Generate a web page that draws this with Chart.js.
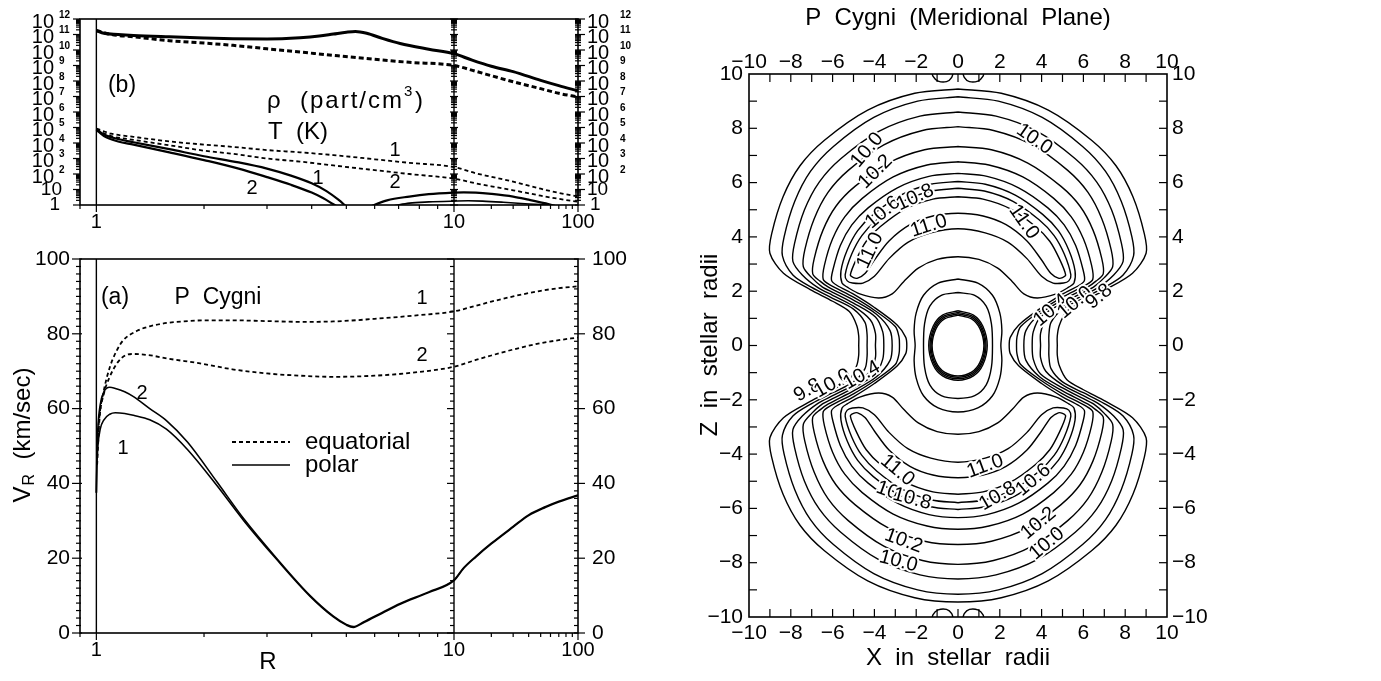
<!DOCTYPE html>
<html>
<head>
<meta charset="utf-8">
<title>P Cygni wind model</title>
<script src="https://cdn.jsdelivr.net/npm/chart.js@4.4.1/dist/chart.umd.min.js"></script>
<style>
  html, body { margin: 0; padding: 0; background: #fff; }
  body { position: relative; width: 1381px; height: 681px; overflow: hidden; }
  canvas { position: absolute; }
  #rhoChart { left: 0; top: 0; }
  #velChart { left: 0; top: 240px; }
  #mapChart { left: 690px; top: 0; }
</style>
</head>
<body>
<canvas id="rhoChart" width="690" height="240"></canvas>
<canvas id="velChart" width="690" height="441"></canvas>
<canvas id="mapChart" width="691" height="681"></canvas>
<script>
const FONT = '"Liberation Sans", Arial, Helvetica, sans-serif'

// shared R axis of (a) and (b)
const rTicks = [1, 10, 100]
const rMinorTicks = [2, 3, 4, 5, 6, 7, 8, 9, 20, 30, 40, 50, 60, 70, 80, 90]

// (b) density, part/cm^3  (polar = solid, equatorial = dotted)
const rRhoPolar = [1, 1.05, 1.15, 1.27, 1.6, 2, 2.41, 3, 3.71, 4.2, 4.6, 5, 5.3, 5.7, 6.3, 7.07, 8.5, 10, 14, 20, 30, 50, 70, 100]
const rhoPolar = [1.8e11, 1.2e11, 1.0e11, 8.7e10, 7.1e10, 6.0e10, 5.4e10, 5.2e10, 6.2e10, 7.9e10, 1.07e11, 1.41e11, 1.58e11, 1.2e11, 5.6e10, 2.6e10, 1.12e10, 5.8e9, 2.2e9, 8.9e8, 4.0e8, 1.1e8, 5.0e7, 2.3e7]
const rRhoEq = [1, 1.1, 1.27, 1.6, 2, 2.41, 3, 3.71, 4.6, 6, 7.5, 10, 15, 20, 30, 50, 70, 100]
const rhoEq = [1.8e11, 1.0e11, 7.1e10, 4.0e10, 2.8e10, 2.0e10, 1.2e10, 7.4e9, 4.5e9, 2.5e9, 1.6e9, 1.0e9, 4.2e8, 2.2e8, 8.9e7, 3.2e7, 1.6e7, 9.3e6]

// (b) temperature, K
const rTempEq = [1, 1.1, 1.27, 1.6, 2, 2.41, 3, 3.71, 4.6, 6, 7.5, 10, 15, 20, 30, 50, 70, 100]
const tempEq1 = [8.5e4, 4.0e4, 2.5e4, 1.26e4, 7.9e3, 5.6e3, 3.5e3, 2.5e3, 1.66e3, 890, 525, 280, 112, 66, 32, 11.2, 6.0, 3.5]
const tempEq2 = [7.1e4, 2.8e4, 1.6e4, 7.1e3, 3.2e3, 2.0e3, 1.0e3, 630, 355, 178, 100, 50, 25, 16, 8.9, 4.0, 2.5, 1.6]
const rTempPol1 = [1, 1.05, 1.15, 1.27, 1.6, 2, 2.5, 3, 3.5, 4, 4.4, 4.75, 5]
const tempPol1 = [7.9e4, 3.5e4, 1.8e4, 1.12e4, 4.0e3, 1.4e3, 560, 224, 79, 25, 7.9, 2.2, 0.79]
const rTempPol2 = [1, 1.05, 1.15, 1.27, 1.6, 2, 2.5, 3, 3.5, 4, 4.3, 4.6, 4.8]
const tempPol2 = [7.1e4, 2.8e4, 1.26e4, 7.9e3, 2.5e3, 790, 224, 63, 20, 6.3, 2.8, 1.12, 0.63]
const rTempPol1Out = [5.9, 6.5, 7.5, 8.5, 10, 12, 15, 20, 30, 40, 55, 65]
const tempPol1Out = [0.89, 2.0, 3.5, 5.0, 6.3, 6.6, 6.3, 5.2, 3.5, 2.2, 1.26, 0.89]
const rTempPol2Out = [6.8, 7.5, 8.5, 10, 13, 17, 25, 35, 50, 65]
const tempPol2Out = [0.89, 1.32, 1.58, 1.78, 1.86, 1.78, 1.51, 1.26, 1.05, 0.89]

const logTicks = [1, 1e1, 1e2, 1e3, 1e4, 1e5, 1e6, 1e7, 1e8, 1e9, 1e10, 1e11, 1e12]

// (a) radial velocity, km/sec
const rVelEq1 = [1.005, 1.02, 1.05, 1.09, 1.14, 1.19, 1.3, 1.41, 1.6, 1.75, 2, 2.41, 3, 3.71, 4.6, 6, 8, 10, 15, 20, 30, 50, 70, 100]
const velEq1 = [50, 58, 65, 71, 75.5, 78.3, 80.8, 82, 83, 83.3, 83.6, 83.6, 83.4, 83.2, 83.3, 84, 85, 86, 87.5, 88.6, 90, 91.5, 92.2, 92.7]
const rVelEq2 = [1.005, 1.02, 1.05, 1.09, 1.15, 1.21, 1.27, 1.4, 1.6, 1.95, 2.4, 3, 3.71, 4.6, 6, 8, 10, 15, 20, 30, 50, 70, 100]
const velEq2 = [45, 57, 64, 68.5, 72.5, 74.3, 74.6, 74.3, 73.3, 72.1, 70.5, 69.4, 68.8, 68.5, 68.8, 69.8, 71.2, 73, 74.2, 75.8, 77.5, 78.3, 79]
const rVelPol = [1, 1.003, 1.01, 1.025, 1.05, 1.09, 1.13, 1.2, 1.27, 1.41, 1.57, 1.8, 2.17, 2.6, 3.19, 3.96, 4.6, 5, 5.23, 5.6, 6.3, 7.07, 8.5, 10, 12, 15, 20, 30, 40, 55, 70, 100]
const velPol1 = [37.5, 44, 50, 54.5, 57, 58.5, 58.9, 58.7, 58.2, 57, 54.5, 49, 39.5, 29.7, 19.7, 9.8, 4.3, 2.1, 1.5, 2.8, 5.3, 7.7, 10.8, 14.0, 17.3, 20.3, 23.8, 28.3, 31.4, 33.6, 35.0, 36.7]
const velPol2 = [37.5, 47, 55, 61, 64.5, 65.7, 65.4, 64.5, 63.2, 60, 56.8, 51, 40.5, 30.2, 20, 10, 4.5, 2.3, 1.7, 3.0, 5.5, 7.9, 11, 14.2, 17.5, 20.5, 24, 28.5, 31.6, 33.8, 35.2, 36.9]
const vTicks = [0, 20, 40, 60, 80, 100]

// (c) log density contours, x and z in stellar radii, drawn in the upper right quadrant
// closed contours around both lobes: pole -> equator
const lobeContours = [
  [[0, 9.45], [2.07, 9.29], [4.32, 8.67], [6.39, 7.56], [7.56, 6.62], [8.37, 5.48], [8.91, 4.13], [9.0, 3.4], [8.35, 2.66], [7.07, 2.06], [6.0, 1.63], [5.2, 1.25], [4.85, 0.75], [4.75, 0.35], [4.75, 0]],
  [[0, 9.16], [1.93, 9.0], [4.03, 8.4], [5.96, 7.33], [7.06, 6.41], [7.81, 5.31], [8.32, 4.0], [8.4, 3.3], [7.9, 2.6], [7.0, 2.14], [6.0, 1.74], [5.0, 1.34], [4.45, 0.85], [4.35, 0.4], [4.35, 0]],
  [[0, 8.6], [1.82, 8.45], [3.79, 7.89], [5.61, 6.88], [6.64, 6.02], [7.35, 4.99], [7.82, 3.76], [7.9, 3.1], [7.45, 2.6], [6.7, 2.13], [6.0, 1.85], [5.0, 1.45], [4.2, 0.95], [3.95, 0.45], [3.95, 0]],
  [[0, 8.06], [1.7, 7.92], [3.55, 7.39], [5.25, 6.45], [6.22, 5.64], [6.88, 4.67], [7.33, 3.52], [7.4, 2.9], [7.0, 2.5], [6.5, 2.16], [6.0, 1.96], [5.0, 1.56], [3.95, 1.05], [3.6, 0.5], [3.55, 0]],
  [[0, 7.33], [1.6, 7.21], [3.34, 6.72], [4.93, 5.86], [5.84, 5.13], [6.46, 4.25], [6.88, 3.2], [6.95, 2.64], [6.6, 2.37], [6.2, 2.15], [5.0, 1.67], [3.9, 1.15], [3.25, 0.55], [3.15, 0]],
  [[0, 6.77], [1.48, 6.65], [3.1, 6.21], [4.58, 5.42], [5.42, 4.74], [6.0, 3.93], [6.39, 2.96], [6.45, 2.44], [6.15, 2.24], [5.0, 1.78], [4.0, 1.3], [3.0, 0.7], [2.82, 0.3], [2.8, 0]],
  [[0, 6.34], [1.39, 6.23], [2.9, 5.81], [4.3, 5.07], [5.08, 4.44], [5.63, 3.68], [5.99, 2.77], [6.05, 2.4], [5.8, 2.22], [5.0, 1.89], [4.0, 1.4], [2.9, 0.75], [2.5, 0.3], [2.45, 0]]
]
// mid-latitude shells (one per hemisphere): pole, outer edge, tip, inner edge, pole
const shellContours = [
  [[0, 6.04], [1.31, 5.94], [2.74, 5.54], [4.05, 4.83], [4.8, 4.23], [5.31, 3.5], [5.6, 2.75], [5.55, 2.3], [5.3, 2.15], [4.7, 1.9], [3.8, 1.75], [3.15, 1.9], [2.6, 2.35], [1.9, 2.85], [1.0, 3.17], [0, 3.27]],
  [[0, 5.79], [1.26, 5.69], [2.63, 5.31], [3.88, 4.63], [4.6, 4.05], [5.09, 3.36], [5.4, 2.6], [5.3, 2.38], [5.05, 2.3], [4.55, 2.3], [4.0, 2.55], [3.3, 3.2], [2.4, 3.8], [1.3, 4.15], [0, 4.3]],
  [[0, 5.48], [1.2, 5.39], [2.51, 5.03], [3.71, 4.38], [4.39, 3.84], [4.86, 3.18], [5.15, 2.6], [5.0, 2.5], [4.8, 2.48], [4.45, 2.65], [4.0, 3.15], [3.3, 3.85], [2.3, 4.45], [1.2, 4.77], [0, 4.87]]
]
// contours close round the star: pole -> equator
const starContours = [
  [[0, 2.45], [0.95, 2.3], [1.65, 1.85], [2.0, 1.2], [2.1, 0.55], [2.05, 0]],
  [[0, 1.95], [0.8, 1.85], [1.35, 1.45], [1.6, 0.8], [1.65, 0]],
  [[0, 1.28], [0.74, 1.12], [1.19, 0.71], [1.4, 0]],
  [[0, 1.22], [0.71, 1.07], [1.14, 0.68], [1.34, 0]],
  [[0, 1.17], [0.68, 1.03], [1.1, 0.65], [1.29, 0]],
  [[0, 1.12], [0.65, 0.98], [1.05, 0.62], [1.24, 0]]
]
// small loops cut by the frame near the poles
const capContours = [
  [[0.2, 10.15], [0.3, 9.88], [0.55, 9.72], [0.95, 9.74], [1.2, 9.92], [1.25, 10.15]]
]
const contourLabels = [
  ['10.0', -4.35, 7.2, -50], ['10.2', -3.95, 6.4, -45], ['10.6', -3.6, 4.9, -40], ['10.8', -2.05, 5.45, -25],
  ['11.0', -4.2, 3.5, -65], ['11.0', -1.4, 4.4, -18], ['10.0', 3.65, 7.6, 35], ['11.0', 3.15, 4.55, 55],
  ['10.4', 4.45, 1.3, -40], ['10.0', 5.6, 1.58, -40], ['9.8', 6.75, 1.8, -40],
  ['11.0', -2.9, -4.6, 40], ['10.8', -3.0, -5.45, 20], ['10.8', -2.2, -5.65, 15], ['11.0', 1.3, -4.45, -20],
  ['10.8', 1.9, -5.55, -30], ['10.6', 3.6, -4.95, -40], ['10.2', -2.6, -7.2, 20], ['10.0', -2.85, -7.95, 15],
  ['10.2', 3.85, -6.55, -40], ['10.0', 4.25, -7.3, -40],
  ['9.8', -7.2, -1.65, -30], ['10.0', -6.0, -1.4, -30], ['10.4', -4.6, -1.1, -30]
]
const xyTicks = [-10, -8, -6, -4, -2, 0, 2, 4, 6, 8, 10]

Chart.defaults.font.family = FONT
Chart.defaults.animation = false

// log axis broken at R = 10: 0.9..10 takes most of the width, 10..100 the rest
class SplitLogScale extends Chart.LogarithmicScale {
  static id = 'splitlog'
  splitDecimal (value) {
    const lo = Math.log10(this.min)
    const mid = Math.log10(this.options.split)
    const hi = Math.log10(this.max)
    const f = this.options.splitAt
    const l = Math.log10(Math.max(value, 1e-9))
    return l <= mid ? f * (l - lo) / (mid - lo) : f + (1 - f) * (l - mid) / (hi - mid)
  }

  getPixelForValue (value) {
    return this.getPixelForDecimal(this.splitDecimal(value))
  }

  getValueForPixel (pixel) {
    const d = this.getDecimalForPixel(pixel)
    const lo = Math.log10(this.min)
    const mid = Math.log10(this.options.split)
    const hi = Math.log10(this.max)
    const f = this.options.splitAt
    const l = d <= f ? lo + d / f * (mid - lo) : mid + (d - f) / (1 - f) * (hi - mid)
    return Math.pow(10, l)
  }
}
Chart.register(SplitLogScale)

const pts = (xs, ys) => xs.map((x, i) => ({ x, y: ys[i] }))

const line = (ctx, x1, y1, x2, y2) => {
  ctx.beginPath()
  ctx.moveTo(x1, y1)
  ctx.lineTo(x2, y2)
  ctx.stroke()
}

const text = (ctx, s, x, y, size = 21, align = 'center', rot = 0, weight = '') => {
  ctx.save()
  ctx.font = `${weight} ${size}px ${FONT}`
  ctx.textAlign = align
  ctx.textBaseline = 'middle'
  ctx.fillStyle = '#000'
  ctx.translate(x, y)
  if (rot) ctx.rotate(rot * Math.PI / 180)
  ctx.fillText(s, 0, 0)
  ctx.restore()
}

const curve = (data, opts = {}) => ({
  data,
  borderColor: '#000',
  borderWidth: opts.width || 1.5,
  borderDash: opts.dash || [],
  pointRadius: 0,
  fill: false,
  cubicInterpolationMode: 'monotone'
})

const rScale = { type: 'splitlog', min: 0.9, max: 100, split: 10, splitAt: 0.751, bounds: 'data', display: false }

// R axis, the R = 1 and R = 10 lines, the frame and y tick marks of the left panels
function drawLeftFrame (chart, yMajor, yMinor, majLen, minLen, labelY) {
  const { ctx, chartArea: a, scales: { x, y } } = chart
  ctx.save()
  ctx.strokeStyle = '#000'
  ctx.lineWidth = 1.2
  for (const v of rTicks) { const px = x.getPixelForValue(v); line(ctx, px, a.bottom, px, a.bottom + 7) }
  for (const v of rMinorTicks) { const px = x.getPixelForValue(v); line(ctx, px, a.bottom, px, a.bottom + 4) }
  line(ctx, a.left, a.bottom, a.left, a.bottom + 4)
  const mid = x.getPixelForValue(10)
  const ticks = (values, len) => {
    for (const v of values) {
      const py = y.getPixelForValue(v)
      line(ctx, a.left - len[0], py, a.left + len[1], py)
      line(ctx, mid - len[2], py, mid + len[3], py)
      line(ctx, a.right - len[4], py, a.right + len[5], py)
    }
  }
  ticks(yMinor, minLen)
  ticks(yMajor, majLen)
  ctx.lineWidth = 1.4
  for (const v of [1, 10]) { const px = x.getPixelForValue(v); line(ctx, px, a.top, px, a.bottom) }
  ctx.lineWidth = 1.6
  ctx.strokeRect(a.left, a.top, a.right - a.left, a.bottom - a.top)
  for (const v of rTicks) text(ctx, String(v), x.getPixelForValue(v), labelY, 20)
  ctx.restore()
}

// ---------- (b) density and temperature ----------
const rhoMinor = []
for (let k = 0; k < 12; k++) for (let m = 2; m <= 9; m++) rhoMinor.push(m * Math.pow(10, k))

new Chart(document.getElementById('rhoChart'), {
  type: 'line',
  data: {
    datasets: [
      curve(pts(rRhoPolar, rhoPolar), { width: 3 }),
      curve(pts(rRhoEq, rhoEq), { width: 3, dash: [5, 3] }),
      curve(pts(rTempEq, tempEq1), { width: 1.8, dash: [4, 3] }),
      curve(pts(rTempEq, tempEq2), { width: 1.8, dash: [4, 3] }),
      curve(pts(rTempPol1, tempPol1), { width: 2.2 }),
      curve(pts(rTempPol2, tempPol2), { width: 2.2 }),
      curve(pts(rTempPol1Out, tempPol1Out), { width: 2.2 }),
      curve(pts(rTempPol2Out, tempPol2Out), { width: 1.6 })
    ]
  },
  options: {
    responsive: false,
    events: [],
    layout: { padding: { left: 80, right: 112, top: 19, bottom: 35 } },
    scales: {
      x: rScale,
      y: { type: 'logarithmic', min: 1, max: 1e12, bounds: 'data', display: false }
    },
    plugins: { legend: { display: false }, tooltip: { enabled: false } }
  },
  plugins: [{
    id: 'rhoFrame',
    afterDraw (chart) {
      const { ctx, scales: { y } } = chart
      drawLeftFrame(chart, logTicks, rhoMinor, [7, 0, 4, 4, 3, 7], [4, 0, 3, 3, 3, 3], 222)
      logTicks.forEach((v, k) => {
        const py = y.getPixelForValue(v)
        if (k === 0) {
          text(ctx, '1', 60, py, 19, 'right')
          text(ctx, '1', 590, py, 19, 'left')
        } else if (k === 1) {
          text(ctx, '10', 62, py, 19, 'right')
          text(ctx, '10', 587, py, 19, 'left')
        } else {
          text(ctx, '10', 54, py + 3, 20, 'right')
          text(ctx, String(k), 59, py - 4, 10, 'left', 0, 'bold')
          text(ctx, '10', 587, py + 3, 20, 'left')
          text(ctx, String(k), 620, py - 4, 10, 'left', 0, 'bold')
        }
      })
      text(ctx, '(b)', 122, 86, 23)
      ctx.save()
      ctx.font = `24px ${FONT}`
      ctx.letterSpacing = '2px'
      ctx.textBaseline = 'middle'
      ctx.fillStyle = '#000'
      const head = '\u03c1  (part/cm'
      ctx.fillText(head, 267, 101)
      const w = ctx.measureText(head).width
      ctx.font = `15px ${FONT}`
      ctx.fillText('3', 267 + w, 92)
      ctx.font = `24px ${FONT}`
      ctx.fillText(')', 267 + w + 11, 101)
      ctx.letterSpacing = '0px'
      ctx.fillText('T  (K)', 268, 132)
      ctx.restore()
      text(ctx, '1', 395, 150, 20)
      text(ctx, '2', 395, 182, 20)
      text(ctx, '1', 318, 178, 20)
      text(ctx, '2', 252, 188, 20)
    }
  }]
})

// ---------- (a) radial velocity ----------
const vMinor = []
for (let v = 2; v < 100; v += 2) if (v % 20) vMinor.push(v)

new Chart(document.getElementById('velChart'), {
  type: 'line',
  data: {
    datasets: [
      curve(pts(rVelEq1, velEq1), { width: 1.8, dash: [4, 3] }),
      curve(pts(rVelEq2, velEq2), { width: 1.8, dash: [4, 3] }),
      curve(pts(rVelPol, velPol1), { width: 1.6 }),
      curve(pts(rVelPol, velPol2), { width: 1.6 })
    ]
  },
  options: {
    responsive: false,
    events: [],
    layout: { padding: { left: 80, right: 112, top: 19, bottom: 48 } },
    scales: {
      x: rScale,
      y: { type: 'linear', min: 0, max: 100, display: false }
    },
    plugins: { legend: { display: false }, tooltip: { enabled: false } }
  },
  plugins: [{
    id: 'velFrame',
    afterDraw (chart) {
      const { ctx, scales: { y } } = chart
      drawLeftFrame(chart, vTicks, vMinor, [8, 2, 7, 0, 4, 7], [4, 1, 4, 0, 4, 0], 410)
      for (const v of vTicks) {
        const py = y.getPixelForValue(v)
        text(ctx, String(v), 70, py, 21, 'right')
        text(ctx, String(v), 592, py, 21, 'left')
      }
      text(ctx, 'R', 268, 422, 24)
      // rotated axis title with subscript
      ctx.save()
      ctx.translate(23, 195)
      ctx.rotate(-Math.PI / 2)
      ctx.textBaseline = 'middle'
      ctx.fillStyle = '#000'
      ctx.font = `24px ${FONT}`
      const wV = ctx.measureText('V').width
      ctx.font = `16px ${FONT}`
      const wR = ctx.measureText('R').width
      ctx.font = `24px ${FONT}`
      const rest = '  (km/sec)'
      const wRest = ctx.measureText(rest).width
      const x0 = -(wV + wR + 2 + wRest) / 2
      ctx.fillText('V', x0, 0)
      ctx.font = `16px ${FONT}`
      ctx.fillText('R', x0 + wV + 1, 7)
      ctx.font = `24px ${FONT}`
      ctx.fillText(rest, x0 + wV + wR + 2, 0)
      ctx.restore()
      text(ctx, '(a)', 115, 58, 23)
      text(ctx, 'P  Cygni', 218, 58, 23)
      text(ctx, '1', 422, 58, 20)
      text(ctx, '2', 422, 115, 20)
      text(ctx, '2', 142, 153, 20)
      text(ctx, '1', 123, 208, 20)
      // legend
      ctx.save()
      ctx.strokeStyle = '#000'
      ctx.lineWidth = 1.8
      ctx.setLineDash([4, 3])
      line(ctx, 232, 202, 290, 202)
      ctx.setLineDash([])
      ctx.lineWidth = 1.6
      line(ctx, 232, 225, 290, 225)
      ctx.restore()
      text(ctx, 'equatorial', 305, 202, 24, 'left')
      text(ctx, 'polar', 305, 225, 24, 'left')
    }
  }]
})

// ---------- (c) meridional plane contours ----------
const flipX = p => p.map(([x, z]) => [-x, z])
const flipZ = p => p.map(([x, z]) => [x, -z])
// quarter (pole -> equator) to a closed curve through all four quadrants
const fullLoop = q => [
  ...q,
  ...flipZ(q).reverse().slice(1),
  ...flipX(flipZ(q)).slice(1),
  ...flipX(q).reverse().slice(1)
]
// half shell in x >= 0 to a closed loop in one hemisphere
const hemiLoop = h => [...h, ...flipX(h).reverse().slice(1)]

const paths = []
for (const q of lobeContours) paths.push(fullLoop(q))
for (const h of shellContours) { const loop = hemiLoop(h); paths.push(loop, flipZ(loop)) }
for (const q of starContours) paths.push(fullLoop(q))
for (const c of capContours) paths.push(c, flipX(c), flipZ(c), flipX(flipZ(c)))

const fmt = v => (v < 0 ? '\u2212' : '') + Math.abs(v)

new Chart(document.getElementById('mapChart'), {
  type: 'scatter',
  data: {
    datasets: paths.map(p => ({
      data: p.map(([x, z]) => ({ x, y: z })),
      showLine: true,
      borderColor: '#000',
      borderWidth: 1.4,
      pointRadius: 0,
      fill: false,
      tension: 0.3
    }))
  },
  options: {
    responsive: false,
    events: [],
    layout: { padding: { left: 59, right: 214, top: 74, bottom: 64 } },
    scales: {
      x: { type: 'linear', min: -10, max: 10, display: false },
      y: { type: 'linear', min: -10, max: 10, display: false }
    },
    plugins: { legend: { display: false }, tooltip: { enabled: false } }
  },
  plugins: [{
    id: 'mapFrame',
    afterDatasetsDraw (chart) {
      const { ctx, scales: { x, y } } = chart
      ctx.save()
      ctx.font = `20px ${FONT}`
      ctx.textAlign = 'center'
      ctx.textBaseline = 'middle'
      ctx.lineJoin = 'round'
      for (const [s, lx, lz, rot] of contourLabels) {
        ctx.save()
        ctx.translate(x.getPixelForValue(lx), y.getPixelForValue(lz))
        ctx.rotate(rot * Math.PI / 180)
        ctx.strokeStyle = '#fff'
        ctx.lineWidth = 4
        ctx.strokeText(s, 0, 0)
        ctx.fillStyle = '#000'
        ctx.fillText(s, 0, 0)
        ctx.restore()
      }
      ctx.restore()
    },
    afterDraw (chart) {
      const { ctx, chartArea: a, scales: { x, y } } = chart
      ctx.save()
      ctx.strokeStyle = '#000'
      ctx.lineWidth = 1.2
      for (let v = -9; v <= 9; v++) {
        const px = x.getPixelForValue(v)
        const py = y.getPixelForValue(v)
        line(ctx, px, a.bottom, px, a.bottom - 8)
        line(ctx, px, a.top, px, a.top + 8)
        line(ctx, a.left, py, a.left + 8, py)
        line(ctx, a.right, py, a.right - 8, py)
      }
      ctx.lineWidth = 1.6
      ctx.strokeRect(a.left, a.top, a.right - a.left, a.bottom - a.top)
      ctx.restore()
      for (const v of xyTicks) {
        text(ctx, fmt(v), x.getPixelForValue(v), a.bottom + 16, 21)
        text(ctx, fmt(v), x.getPixelForValue(v), a.top - 12, 21)
        text(ctx, fmt(v), a.left - 6, y.getPixelForValue(v), 21, 'right')
        text(ctx, fmt(v), a.right + 5, y.getPixelForValue(v), 21, 'left')
      }
      text(ctx, 'P  Cygni  (Meridional  Plane)', 268, 18, 24)
      text(ctx, 'X  in  stellar  radii', 268, 658, 24)
      text(ctx, 'Z  in  stellar  radii', 20, 345, 24, 'center', -90)
    }
  }]
})
</script>
</body>
</html>
